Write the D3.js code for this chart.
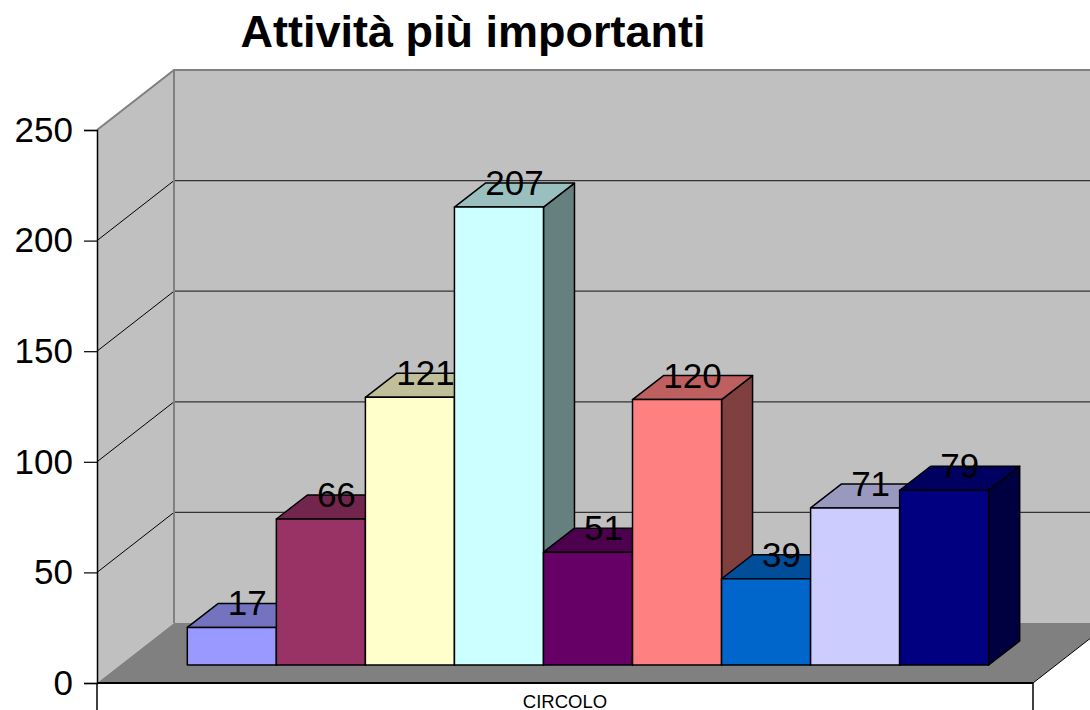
<!DOCTYPE html>
<html>
<head>
<meta charset="utf-8">
<script src="https://cdn.jsdelivr.net/npm/d3@7"></script>
<style>
  body { margin: 0; background: #fff; }
  svg { display: block; font-family: "Liberation Sans", Arial, sans-serif; }
</style>
</head>
<body>
<script>
// chart data
var categories = ['CIRCOLO'];
var seriesValues = [17, 66, 121, 207, 51, 120, 39, 71, 79];
var seriesColors = ['#9999FF', '#993366', '#FFFFCC', '#CCFFFF', '#660066',
                    '#FF8080', '#0066CC', '#CCCCFF', '#000080'];
var yTicks = [0, 50, 100, 150, 200, 250];

var width = 1090, height = 710;
var plotLeft = 97, plotRight = 1033, plotBottom = 683, plotTop = 130;
var depthX = 77, depthY = 60;          // floor depth
var barDepthX = 31, barDepthY = 24;    // bar depth
var barOffX = (depthX - barDepthX) / 2, barOffY = (depthY - barDepthY) / 2;

var svg = d3.select('body')
            .append('svg')
            .attr('width', width)
            .attr('height', height);

var y = d3.scaleLinear().domain([0, 250]).range([plotBottom, plotTop]);
var xCat = d3.scaleBand().domain(categories).range([plotLeft, plotRight])
             .paddingInner(0).paddingOuter(0.084);
var xSer = d3.scaleBand().domain(d3.range(seriesValues.length))
             .range([xCat(categories[0]), xCat(categories[0]) + xCat.bandwidth()]);

function shade(c, k) {
    var r = d3.rgb(c);
    return d3.rgb(r.r * k, r.g * k, r.b * k).formatHex();
}
function pts(a) { return a.map(function (p) { return p.join(','); }).join(' '); }

// title
svg.append('text')
   .attr('x', 473).attr('y', 47)
   .attr('text-anchor', 'middle')
   .style('font-size', '45px').style('font-weight', 'bold')
   .text('Attività più importanti');

// walls
var backLeft = plotLeft + depthX, backRight = plotRight + depthX;
var wallTop = y(250) - depthY, floorBack = plotBottom - depthY;
svg.append('polygon') // left wall
   .attr('points', pts([[plotLeft, plotBottom], [plotLeft, y(250)], [backLeft, wallTop], [backLeft, floorBack]]))
   .attr('fill', '#C0C0C0');
svg.append('polygon') // back wall
   .attr('points', pts([[backLeft, floorBack], [backLeft, wallTop], [backRight, wallTop], [backRight, floorBack]]))
   .attr('fill', '#C0C0C0');

// gridlines
yTicks.slice(1, -1).forEach(function (t) {
    svg.append('line')
       .attr('x1', plotLeft).attr('y1', y(t))
       .attr('x2', backLeft).attr('y2', y(t) - depthY)
       .attr('stroke', '#000').attr('stroke-width', 1);
    svg.append('line')
       .attr('x1', backLeft).attr('y1', y(t) - depthY)
       .attr('x2', backRight).attr('y2', y(t) - depthY)
       .attr('stroke', '#333').attr('stroke-width', 1.2);
});

// wall outline
svg.append('polyline')
   .attr('points', pts([[plotLeft, y(250)], [backLeft, wallTop], [backRight, wallTop]]))
   .attr('fill', 'none').attr('stroke', '#808080').attr('stroke-width', 2);
svg.append('line')
   .attr('x1', backLeft).attr('y1', wallTop)
   .attr('x2', backLeft).attr('y2', floorBack)
   .attr('stroke', '#808080').attr('stroke-width', 2);

// floor
svg.append('polygon')
   .attr('points', pts([[plotLeft, plotBottom], [plotRight, plotBottom], [backRight, floorBack], [backLeft, floorBack]]))
   .attr('fill', '#808080');
svg.append('line')
   .attr('x1', plotLeft).attr('y1', plotBottom).attr('x2', plotRight).attr('y2', plotBottom)
   .attr('stroke', '#000').attr('stroke-width', 2);
svg.append('line')
   .attr('x1', plotRight).attr('y1', plotBottom).attr('x2', backRight).attr('y2', floorBack)
   .attr('stroke', '#000').attr('stroke-width', 1);
[plotLeft, plotRight].forEach(function (x) {
    svg.append('line')
       .attr('x1', x).attr('y1', plotBottom).attr('x2', x).attr('y2', height)
       .attr('stroke', '#000').attr('stroke-width', 1.5);
});

// y axis
var yAxis = svg.append('g')
   .attr('transform', 'translate(' + plotLeft + ',0)')
   .call(d3.axisLeft(y).tickValues(yTicks).tickSize(13).tickPadding(11));
yAxis.select('.domain').attr('stroke', '#000').attr('stroke-width', 1.5);
yAxis.selectAll('.tick line').attr('stroke', '#000').attr('stroke-width', 1.2);
yAxis.selectAll('.tick text')
     .style('font-size', '35px')
     .style('font-family', '"Liberation Sans", Arial, sans-serif')
     .attr('fill', '#000');

// category label
svg.append('text')
   .attr('x', xCat(categories[0]) + xCat.bandwidth() / 2)
   .attr('y', 708)
   .attr('text-anchor', 'middle')
   .style('font-size', '18.5px')
   .text(categories[0]);

// bars
var bars = svg.selectAll('g.bar')
              .data(seriesValues)
              .enter()
              .append('g')
              .attr('class', 'bar');

bars.each(function (d, i) {
    var g = d3.select(this);
    var x0 = xSer(i) + barOffX, x1 = x0 + xSer.bandwidth();
    var yb = y(0) - barOffY, yt = y(d) - barOffY;
    var c = seriesColors[i];
    g.append('polygon') // side
     .attr('points', pts([[x1, yb], [x1, yt], [x1 + barDepthX, yt - barDepthY], [x1 + barDepthX, yb - barDepthY]]))
     .attr('fill', shade(c, 0.5));
    g.append('polygon') // top
     .attr('points', pts([[x0, yt], [x1, yt], [x1 + barDepthX, yt - barDepthY], [x0 + barDepthX, yt - barDepthY]]))
     .attr('fill', shade(c, 0.75));
    g.append('rect') // front
     .attr('x', x0).attr('y', yt)
     .attr('width', x1 - x0).attr('height', yb - yt)
     .attr('fill', c);
    g.selectAll('polygon, rect')
     .attr('stroke', '#000').attr('stroke-width', 1.5)
     .attr('stroke-linejoin', 'round');
});

// value labels
bars.append('text')
    .attr('x', function (d, i) { return xSer(i) + barOffX + xSer.bandwidth() / 2 + barDepthX / 2; })
    .attr('y', function (d) { return y(d) - barOffY - barDepthY / 2; })
    .attr('text-anchor', 'middle')
    .style('font-size', '35px')
    .attr('fill', '#000')
    .text(function (d) { return d; });
</script>
</body>
</html>
